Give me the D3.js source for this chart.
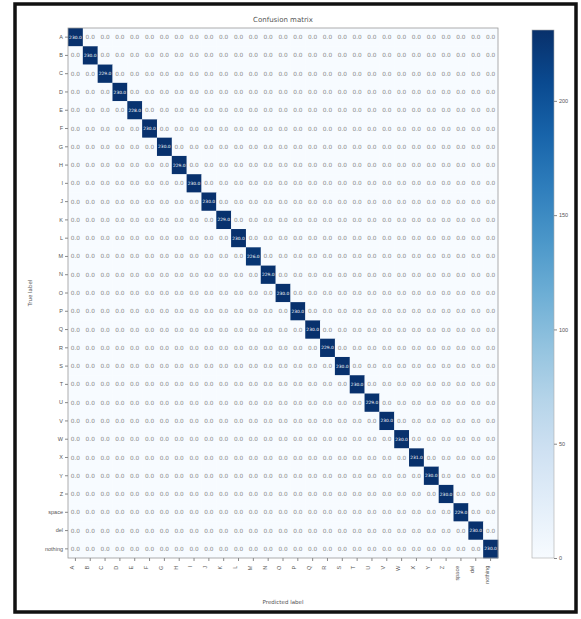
<!DOCTYPE html>
<html>
<head>
<meta charset="utf-8">
<script src="https://cdn.jsdelivr.net/npm/d3@7"></script>
<style>
    body { margin: 0; background: #fff; font-family: "DejaVu Sans", sans-serif; }
    svg text { fill: #555; }
</style>
</head>
<body>
<div id="chart"></div>
<script>
// class labels (true / predicted)
const classes = ["A", "B", "C", "D", "E", "F", "G", "H", "I", "J", "K", "L", "M", "N", "O",
    "P", "Q", "R", "S", "T", "U", "V", "W", "X", "Y", "Z", "space", "del", "nothing"];
// correct predictions per class (diagonal)
const diagonal = [230, 230, 229, 230, 228, 230, 230, 229, 230, 230, 229, 230, 226, 229, 230,
    230, 230, 229, 230, 230, 229, 230, 230, 231, 230, 230, 229, 230, 230];
// off-diagonal misclassifications [true, predicted, count] - none visible
const mistakes = [];
const colorTicks = [0, 50, 100, 150, 200];

const W = 581, H = 619;
const margin = {top: 28, left: 68, right: 83, bottom: 61};
const width = 498 - margin.left;
const height = 558 - margin.top;

const svg = d3.select('#chart').append('svg')
    .attr('width', W)
    .attr('height', H);

// screenshot frame
svg.append('rect')
    .attr('x', 15).attr('y', 4)
    .attr('width', 561).attr('height', 608)
    .attr('fill', '#fff')
    .attr('stroke', '#111')
    .attr('stroke-width', 3.5);

// build matrix table from the arrays
const cells = [];
classes.forEach((t, i) => {
    classes.forEach((p, j) => {
        cells.push({t, p, value: i === j ? diagonal[i] : 0});
    });
});
mistakes.forEach(([t, p, v]) => {
    cells.find(c => c.t === t && c.p === p).value = v;
});

const vmax = d3.max(cells, d => d.value);

const x = d3.scaleBand().domain(classes).range([0, width]);
const y = d3.scaleBand().domain(classes).range([0, height]);
const color = d3.scaleSequential(d3.interpolateBlues).domain([0, vmax]);

const g = svg.append('g')
    .attr('transform', `translate(${margin.left},${margin.top})`);

g.selectAll('.cell')
    .data(cells)
    .enter().append('rect')
    .attr('class', 'cell')
    .attr('x', d => x(d.p))
    .attr('y', d => y(d.t))
    .attr('width', x.bandwidth() + 0.3)
    .attr('height', y.bandwidth() + 0.3)
    .attr('fill', d => color(d.value));

const dark = d => d.value > vmax / 2;

g.selectAll('.val')
    .data(cells)
    .enter().append('text')
    .attr('class', 'val')
    .attr('x', d => x(d.p) + x.bandwidth() / 2)
    .attr('y', d => y(d.t) + y.bandwidth() / 2)
    .attr('dy', '0.35em')
    .attr('text-anchor', 'middle')
    .style('font-size', d => dark(d) ? '4.4px' : '5.8px')
    .style('fill', d => dark(d) ? '#fff' : '#888')
    .text(d => d3.format('.1f')(d.value));

// frame of the axes
g.append('rect')
    .attr('width', width).attr('height', height)
    .attr('fill', 'none')
    .attr('stroke', '#999')
    .attr('stroke-width', 0.8);

const yAxis = g.append('g')
    .call(d3.axisLeft(y).tickSize(3).tickPadding(2));
yAxis.select('.domain').remove();
yAxis.selectAll('line').attr('stroke', '#888');
yAxis.selectAll('text').style('font-size', '5.5px').style('fill', '#555');

const xAxis = g.append('g')
    .attr('transform', `translate(0,${height})`)
    .call(d3.axisBottom(x).tickSize(3).tickPadding(2));
xAxis.select('.domain').remove();
xAxis.selectAll('line').attr('stroke', '#888');
xAxis.selectAll('text')
    .style('font-size', '5.5px')
    .style('fill', '#555')
    .attr('text-anchor', 'end')
    .attr('dx', '-0.5em')
    .attr('dy', '-0.3em')
    .attr('transform', 'rotate(-90)')
    .attr('x', -5)
    .attr('y', 0);

// titles
svg.append('text')
    .attr('x', margin.left + width / 2)
    .attr('y', 22)
    .attr('text-anchor', 'middle')
    .style('font-size', '7px')
    .text('Confusion matrix');

svg.append('text')
    .attr('x', margin.left + width / 2)
    .attr('y', 604)
    .attr('text-anchor', 'middle')
    .style('font-size', '5.5px')
    .text('Predicted label');

svg.append('text')
    .attr('transform', `translate(32,${margin.top + height / 2}) rotate(-90)`)
    .attr('text-anchor', 'middle')
    .style('font-size', '5.5px')
    .text('True label');

// colorbar
const cbX = 532, cbW = 22;
const cy = d3.scaleLinear().domain([0, vmax]).range([558, 30]);
const defs = svg.append('defs');
const grad = defs.append('linearGradient')
    .attr('id', 'cbgrad')
    .attr('x1', 0).attr('y1', 1).attr('x2', 0).attr('y2', 0);
d3.range(0, 1.01, 0.1).forEach(t => {
    grad.append('stop')
        .attr('offset', t)
        .attr('stop-color', d3.interpolateBlues(t));
});
svg.append('rect')
    .attr('x', cbX).attr('y', cy(vmax))
    .attr('width', cbW).attr('height', cy(0) - cy(vmax))
    .attr('fill', 'url(#cbgrad)')
    .attr('stroke', '#aaa')
    .attr('stroke-width', 0.6);

const cAxis = svg.append('g')
    .attr('transform', `translate(${cbX + cbW},0)`)
    .call(d3.axisRight(cy).tickValues(colorTicks).tickSize(3).tickPadding(2));
cAxis.select('.domain').remove();
cAxis.selectAll('line').attr('stroke', '#888');
cAxis.selectAll('text').style('font-size', '5.5px').style('fill', '#555');
</script>
</body>
</html>
